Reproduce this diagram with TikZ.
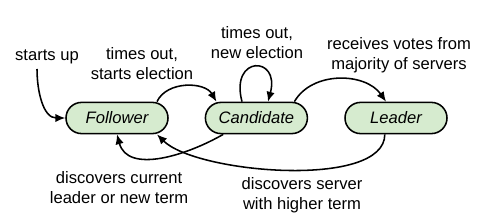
\documentclass[tikz,border=0pt]{standalone}
\usepackage{fontspec}
\setmainfont{Liberation Sans}
\usetikzlibrary{shapes.misc,arrows.meta}
\definecolor{stategreen}{RGB}{214,235,207}
\newcommand{\diagfont}{\fontsize{11.8}{14.3}\selectfont}
\tikzset{
  statebox/.style={rounded rectangle, draw, line width=1.1pt, fill=stategreen,
    minimum width=2.55cm, minimum height=0.78cm, inner sep=0pt, font=\diagfont\itshape},
  trans/.style={line width=1.1pt, -{Latex[length=7pt,width=6pt]}},
  lbl/.style={align=center, font=\diagfont}
}
\begin{document}
\begin{tikzpicture}
  \useasboundingbox (0,0) rectangle (11.925,5.4);

  % States
  \node[statebox] (follower) at (2.925,2.45) {Follower};
  \node[statebox] (candidate) at (6.41,2.45) {Candidate};
  \node[statebox] (leader) at (9.9,2.45) {Leader};
  \coordinate (start) at (0.925,3.675);

  % Labels
  \node[lbl] (lstart) at (1.175,3.975) {starts up};
  \node[lbl] (lelect) at (3.55,3.8) {times out,\\starts election};
  \node[lbl] (lloop) at (6.425,4.325) {times out,\\new election};
  \node[lbl] (lvotes) at (9.975,4.025) {receives votes from\\majority of servers};
  \node[lbl] (lcurrent) at (2.975,0.7) {discovers current\\leader or new term};
  \node[lbl] (lhigher) at (7.55,0.525) {discovers server\\with higher term};

  % Transitions
  \draw[trans] (start) to[out=-90,in=180] (follower.west);
  \draw[trans] ([xshift=1cm]follower.north) to[out=65,in=120] ([xshift=-1cm]candidate.north);
  \draw[trans] ([xshift=-0.36cm]candidate.north) to[out=105,in=75,distance=1.2cm] ([xshift=0.29cm]candidate.north);
  \draw[trans] ([xshift=0.95cm]candidate.north) to[out=60,in=125] ([xshift=-0.25cm]leader.north);
  \draw[trans] ([xshift=-0.83cm]candidate.south) to[out=-150,in=-75] (follower.south);
  \draw[trans] ([xshift=-0.28cm]leader.south) to[out=-90,in=-45,looseness=0.62] ([xshift=1cm]follower.south);
\end{tikzpicture}
\end{document}
